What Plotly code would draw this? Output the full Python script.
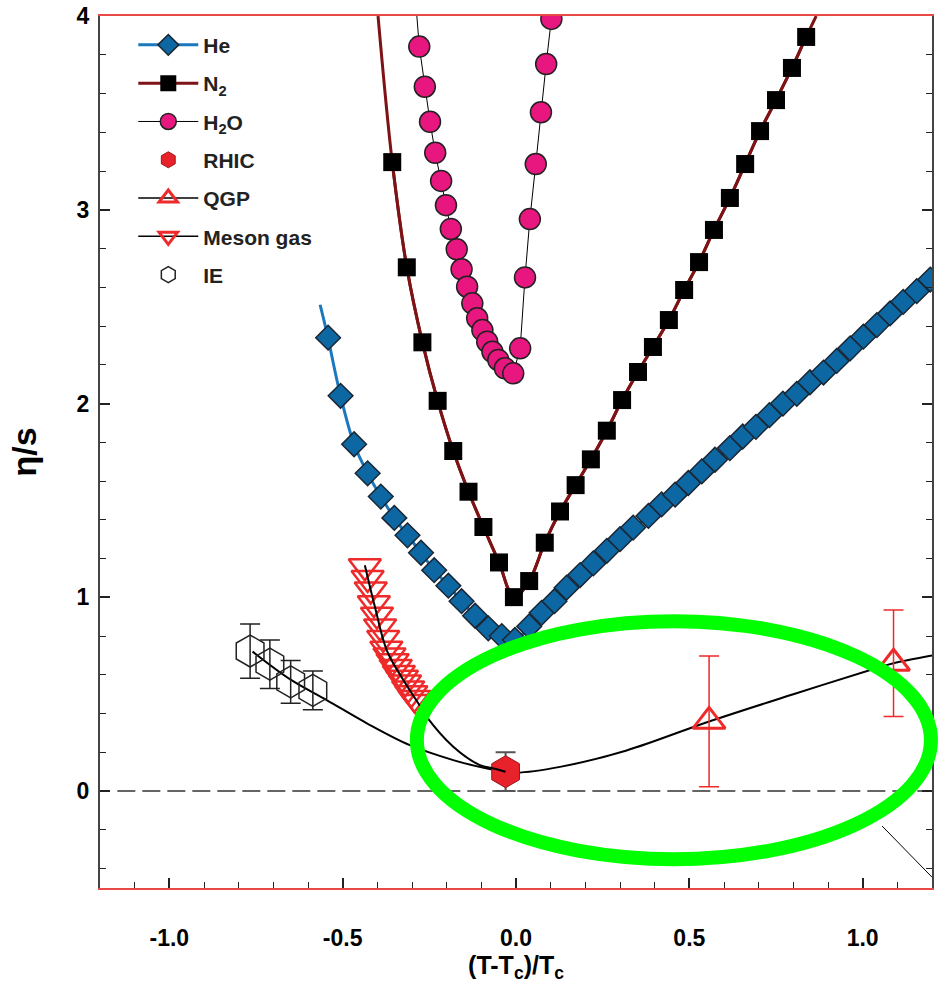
import plotly.graph_objects as go

# ---------------- data ----------------
he_x = [-0.542, -0.506, -0.467, -0.428, -0.390, -0.351, -0.313, -0.274, -0.236, -0.195,
        -0.157, -0.118, -0.080, -0.041, -0.003, 0.038, 0.074, 0.111, 0.146, 0.185,
        0.223, 0.262, 0.300, 0.338, 0.382, 0.420, 0.459, 0.497, 0.536, 0.574,
        0.617, 0.654, 0.692, 0.731, 0.770, 0.810, 0.848, 0.887, 0.925, 0.964,
        1.002, 1.041, 1.079, 1.117, 1.156, 1.195]
he_y = [2.34, 2.04, 1.79, 1.64, 1.52, 1.41, 1.32, 1.23, 1.14, 1.06,
        0.98, 0.905, 0.84, 0.80, 0.78, 0.85, 0.92, 0.98, 1.05, 1.115,
        1.175, 1.24, 1.30, 1.36, 1.42, 1.48, 1.53, 1.59, 1.65, 1.71,
        1.77, 1.83, 1.88, 1.94, 2.00, 2.05, 2.11, 2.16, 2.22, 2.285,
        2.345, 2.405, 2.465, 2.525, 2.58, 2.64]
he_lead_x = [-0.565, -0.542]
he_lead_y = [2.51, 2.34]

n2_x = [-0.357, -0.315, -0.270, -0.226, -0.181, -0.137, -0.094, -0.049, -0.006, 0.038,
        0.083, 0.127, 0.172, 0.216, 0.262, 0.306, 0.352, 0.395, 0.441, 0.485,
        0.528, 0.571, 0.617, 0.661, 0.704, 0.750, 0.796, 0.837]
n2_y = [3.246, 2.703, 2.316, 2.014, 1.755, 1.545, 1.363, 1.180, 1.001, 1.084,
        1.282, 1.443, 1.579, 1.712, 1.860, 2.018, 2.163, 2.292, 2.431, 2.586,
        2.730, 2.896, 3.061, 3.236, 3.406, 3.566, 3.732, 3.892]
n2_ends_x = [-0.398, 0.866]
n2_ends_y = [4.0, 4.0]

h2o_x = [-0.279, -0.263, -0.248, -0.233, -0.216, -0.202, -0.188, -0.171, -0.157, -0.141,
         -0.126, -0.112, -0.097, -0.083, -0.068, -0.051, -0.032, -0.008,
         0.012, 0.026, 0.040, 0.057, 0.072, 0.087, 0.102]
h2o_y = [3.842, 3.635, 3.454, 3.294, 3.149, 3.024, 2.901, 2.796, 2.693, 2.603,
         2.517, 2.440, 2.379, 2.319, 2.267, 2.225, 2.182, 2.156,
         2.285, 2.651, 2.952, 3.236, 3.503, 3.752, 3.985]
h2o_lead_x = [-0.286, -0.279]
h2o_lead_y = [4.0, 3.842]

rhic_x = [-0.03]
rhic_y = [0.10]
rhic_err = [0.10]

qgp_x = [0.557, 1.089]
qgp_y = [0.36, 0.66]
qgp_err = [0.337, 0.275]

meson_x = [-0.436, -0.428, -0.419, -0.410, -0.401, -0.392, -0.383, -0.374, -0.365,
           -0.356, -0.347, -0.338, -0.329, -0.320, -0.311, -0.302, -0.293, -0.284]
meson_y = [1.16, 1.10, 1.04, 0.97, 0.91, 0.85, 0.79, 0.735, 0.70,
           0.67, 0.64, 0.61, 0.585, 0.56, 0.53, 0.505, 0.48, 0.46]

ie_x = [-0.767, -0.710, -0.650, -0.586]
ie_y = [0.723, 0.655, 0.564, 0.52]
ie_err = [0.14, 0.125, 0.11, 0.10]

theory_x = [-0.76, -0.65, -0.546, -0.43, -0.306, -0.181, -0.08, -0.03, 0.0, 0.127,
            0.319, 0.555, 0.80, 1.036, 1.089, 1.2]
theory_y = [0.72, 0.575, 0.47, 0.35, 0.237, 0.16, 0.115, 0.10, 0.095, 0.125,
            0.21, 0.358, 0.50, 0.633, 0.66, 0.70]

meson_curve_x = [-0.436, -0.407, -0.373, -0.325, -0.282, -0.258, -0.181, -0.104, -0.065, -0.03]
meson_curve_y = [1.166, 0.951, 0.728, 0.573, 0.453, 0.384, 0.229, 0.134, 0.117, 0.10]

x_range = [-1.2, 1.2]
y_range = [-0.5, 4.0]
x_tick_vals = [-1.0, -0.5, 0.0, 0.5, 1.0]
x_tick_text = ["-1.0", "-0.5", "0.0", "0.5", "1.0"]
y_tick_vals = [0, 1, 2, 3, 4]
y_tick_text = ["0", "1", "2", "3", "4"]

# highlight ellipse (data coordinates) and pointer line
ellipse_x = [-0.286, 1.197]
ellipse_y = [-0.351, 0.877]
pointer_x = [1.056, 1.2]
pointer_y = [-0.18, -0.444]
zero_line_x = [-1.15, 1.2]

# ---------------- figure ----------------
FONT = "Liberation Sans"
RED = "#ee2a2a"
fig = go.Figure()

# He
fig.add_trace(go.Scatter(x=he_lead_x, y=he_lead_y, mode="lines", line=dict(color="#1c78bd", width=3),
                         showlegend=False, legendgroup="he", hoverinfo="skip"))
fig.add_trace(go.Scatter(x=he_x, y=he_y, mode="lines+markers", name="He", legendgroup="he",
                         line=dict(color="#1c78bd", width=3, shape="spline"),
                         marker=dict(symbol="diamond", size=19, color="#0d67a3",
                                     line=dict(color="#1b2633", width=1.5))))
# N2
fig.add_trace(go.Scatter(x=[n2_ends_x[0]] + n2_x + [n2_ends_x[1]], y=[n2_ends_y[0]] + n2_y + [n2_ends_y[1]],
                         mode="lines", line=dict(color="#7d1315", width=3, shape="spline"),
                         showlegend=False, legendgroup="n2", hoverinfo="skip"))
fig.add_trace(go.Scatter(x=n2_x, y=n2_y, mode="lines+markers", name="N<sub>2</sub>", legendgroup="n2",
                         line=dict(color="#7d1315", width=3, shape="spline"),
                         marker=dict(symbol="square", size=18, color="black")))
# H2O
fig.add_trace(go.Scatter(x=h2o_lead_x, y=h2o_lead_y, mode="lines", line=dict(color="black", width=1),
                         showlegend=False, legendgroup="h2o", hoverinfo="skip"))
fig.add_trace(go.Scatter(x=h2o_x, y=h2o_y, mode="lines+markers", name="H<sub>2</sub>O", legendgroup="h2o",
                         line=dict(color="black", width=1),
                         marker=dict(symbol="circle", size=21, color="#e8167f",
                                     line=dict(color="#222", width=1.5))))
# theory curves
fig.add_trace(go.Scatter(x=theory_x, y=theory_y, mode="lines", line=dict(color="black", width=2, shape="spline"),
                         showlegend=False, legendgroup="qgp", hoverinfo="skip"))
# RHIC
fig.add_trace(go.Scatter(x=rhic_x, y=rhic_y, mode="markers", name="RHIC", legendgroup="rhic",
                         marker=dict(symbol="hexagon", size=32, color="#e8222a",
                                     line=dict(color="#9a1515", width=1)),
                         error_y=dict(type="data", array=rhic_err, color="#555", thickness=2, width=10)))
# QGP
fig.add_trace(go.Scatter(x=qgp_x, y=qgp_y, mode="markers", showlegend=False, legendgroup="qgp",
                         marker=dict(symbol="triangle-up-open", size=28, color=RED, line=dict(width=3)),
                         error_y=dict(type="data", array=qgp_err, color=RED, thickness=1.5, width=10)))
fig.add_trace(go.Scatter(x=[None], y=[None], mode="lines+markers", name="QGP", legendgroup="qgp",
                         line=dict(color="black", width=1.5),
                         marker=dict(symbol="triangle-up-open", size=28, color=RED, line=dict(width=3))))
# Meson gas
fig.add_trace(go.Scatter(x=meson_x, y=meson_y, mode="markers", showlegend=False, legendgroup="meson",
                         marker=dict(symbol="triangle-down-open", size=28, color=RED, line=dict(width=2.5))))
fig.add_trace(go.Scatter(x=meson_curve_x, y=meson_curve_y, mode="lines",
                         line=dict(color="black", width=2, shape="spline"),
                         showlegend=False, legendgroup="meson", hoverinfo="skip"))
fig.add_trace(go.Scatter(x=[None], y=[None], mode="lines+markers", name="Meson gas", legendgroup="meson",
                         line=dict(color="black", width=1.5),
                         marker=dict(symbol="triangle-down-open", size=28, color=RED, line=dict(width=3))))
# IE
fig.add_trace(go.Scatter(x=ie_x, y=ie_y, mode="markers", name="IE", legendgroup="ie",
                         marker=dict(symbol="hexagon-open", size=32, color="#222", line=dict(width=1.5)),
                         error_y=dict(type="data", array=ie_err, color="#222", thickness=1.5, width=10)))


def to_paper_x(v):
    return (v - x_range[0]) / (x_range[1] - x_range[0])


def to_paper_y(v):
    return (v - y_range[0]) / (y_range[1] - y_range[0])


shapes = [
    dict(type="line", xref="x", yref="y", x0=zero_line_x[0], x1=zero_line_x[1], y0=0, y1=0,
         line=dict(color="#333", width=1.5, dash="18px,7px"), layer="below"),
    dict(type="line", xref="x", yref="y", x0=pointer_x[0], x1=pointer_x[1], y0=pointer_y[0], y1=pointer_y[1],
         line=dict(color="black", width=1)),
    dict(type="circle", xref="paper", yref="paper",
         x0=to_paper_x(ellipse_x[0]), x1=to_paper_x(ellipse_x[1]),
         y0=to_paper_y(ellipse_y[0]), y1=to_paper_y(ellipse_y[1]),
         line=dict(color="#00ff00", width=14), layer="above"),
]

fig.update_layout(
    width=939, height=985,
    margin=dict(l=100, r=7, t=16, b=97, autoexpand=False),
    paper_bgcolor="white", plot_bgcolor="white",
    font=dict(family=FONT, color="black"),
    shapes=shapes,
    showlegend=True,
    legend=dict(x=0.04, y=0.99, xanchor="left", yanchor="top", bgcolor="rgba(0,0,0,0)",
                font=dict(family=FONT, size=21, color="#222", weight="bold"),
                traceorder="grouped", tracegroupgap=8, itemwidth=60),
    xaxis=dict(range=x_range, tickmode="array", tickvals=x_tick_vals, ticktext=x_tick_text,
               automargin=False,
               showgrid=False, zeroline=False, showline=True, linecolor="#e84848", linewidth=2,
               mirror=True, ticks="inside", ticklen=10, tickwidth=1.5, tickcolor="#222",
               ticklabelstandoff=28,
               tickfont=dict(family=FONT, size=23, weight="bold"),
               minor=dict(tickmode="linear", tick0=0, dtick=0.1, ticks="inside", ticklen=6,
                          tickwidth=1.2, tickcolor="#222", showgrid=False),
               title=dict(text="(T-T<sub>c</sub>)/T<sub>c</sub>", font=dict(family=FONT, size=25, weight="bold"),
                          standoff=3)),
    yaxis=dict(range=y_range, tickmode="array", tickvals=y_tick_vals, ticktext=y_tick_text,
               automargin=False,
               showgrid=False, zeroline=False, showline=True, linecolor="#444", linewidth=2,
               mirror="ticks", ticks="inside", ticklen=10, tickwidth=1.5, tickcolor="#222",
               ticklabelstandoff=4,
               tickfont=dict(family=FONT, size=23, weight="bold"),
               minor=dict(tickmode="linear", tick0=0, dtick=0.2, ticks="inside", ticklen=6,
                          tickwidth=1.2, tickcolor="#222", showgrid=False),
               title=dict(text="η/s", font=dict(family=FONT, size=34, weight="bold"), standoff=30)),
)

# remove the default 8px page margin so the figure sits at the window's top-left corner
fig.write_html("out.html", config={"displayModeBar": False},
               post_script="document.body.style.margin='0';document.body.style.overflow='hidden';")
